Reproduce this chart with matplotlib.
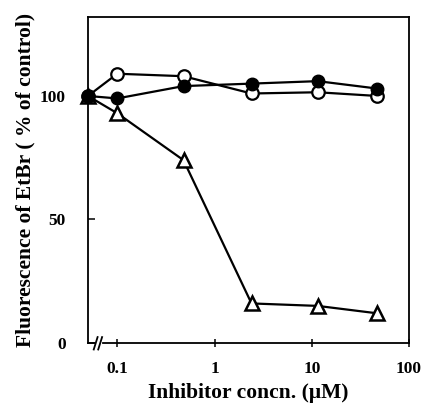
import numpy as np
import matplotlib
matplotlib.use("Agg")
from matplotlib import pyplot as plt

# Concentrations (uM); the first point is the control, drawn at the broken-axis origin
conc = [0.05, 0.1, 0.48, 2.4, 11.5, 47]

# Fluorescence of EtBr, % of control
open_circ = [100, 109, 108, 101, 101.5, 100]
filled_circ = [100, 99, 104, 105, 106, 103]
open_tri = [100, 93, 74, 16, 15, 12]

xticks = [0.1, 1, 10, 100]
xtick_labels = ["0.1", "1", "10", "100"]
yticks = [0, 50, 100]

plt.rcParams["font.family"] = ["Liberation Serif", "DejaVu Serif"]
plt.rcParams["font.weight"] = "bold"

fig = plt.figure(figsize=(4.27, 4.03), dpi=100)
ax = fig.add_axes([0.206, 0.149, 0.752, 0.809])

lw = 1.6
ax.plot(conc, open_tri, "-", color="black", lw=lw, marker="^", ms=9.5,
        mfc="white", mec="black", mew=1.8, clip_on=False, zorder=3)
ax.plot(conc, open_circ, "-", color="black", lw=lw, marker="o", ms=9,
        mfc="white", mec="black", mew=1.6, clip_on=False, zorder=4)
ax.plot(conc, filled_circ, "-", color="black", lw=lw, marker="o", ms=9,
        mfc="black", mec="black", clip_on=False, zorder=5)

ax.set_xscale("log")
ax.set_xlim(0.05, 100)
ax.set_ylim(0, 132)

ax.set_xticks(xticks)
ax.set_xticklabels(xtick_labels)
ax.xaxis.set_minor_locator(plt.NullLocator())
ax.set_yticks(yticks)

ax.tick_params(axis="both", direction="inout", length=6, width=1.1,
               labelsize=12.5, top=False, right=False)
ax.tick_params(axis="x", pad=10)
ax.tick_params(axis="y", direction="in", length=5, pad=16)

for s in ax.spines.values():
    s.set_linewidth(1.3)

# broken bottom axis with "//" marks
ax.spines["bottom"].set_visible(False)
b0, b1 = 0.019, 0.047
ax.plot([0, b0], [0, 0], transform=ax.transAxes, color="black", lw=1.3, clip_on=False)
ax.plot([b1, 1], [0, 0], transform=ax.transAxes, color="black", lw=1.3, clip_on=False)
for xb in (0.024, 0.038):
    ax.plot([xb - 0.006, xb + 0.006], [-0.02, 0.018], transform=ax.transAxes,
            color="black", lw=1.3, clip_on=False)

ax.set_xlabel("Inhibitor concn. (\u03bcM)", fontsize=15.5, fontweight="bold", labelpad=4)
ax.set_ylabel("Fluorescence of EtBr ( % of control)", fontsize=15.5,
              fontweight="bold", labelpad=3)

fig.savefig("out.png", dpi=100)
